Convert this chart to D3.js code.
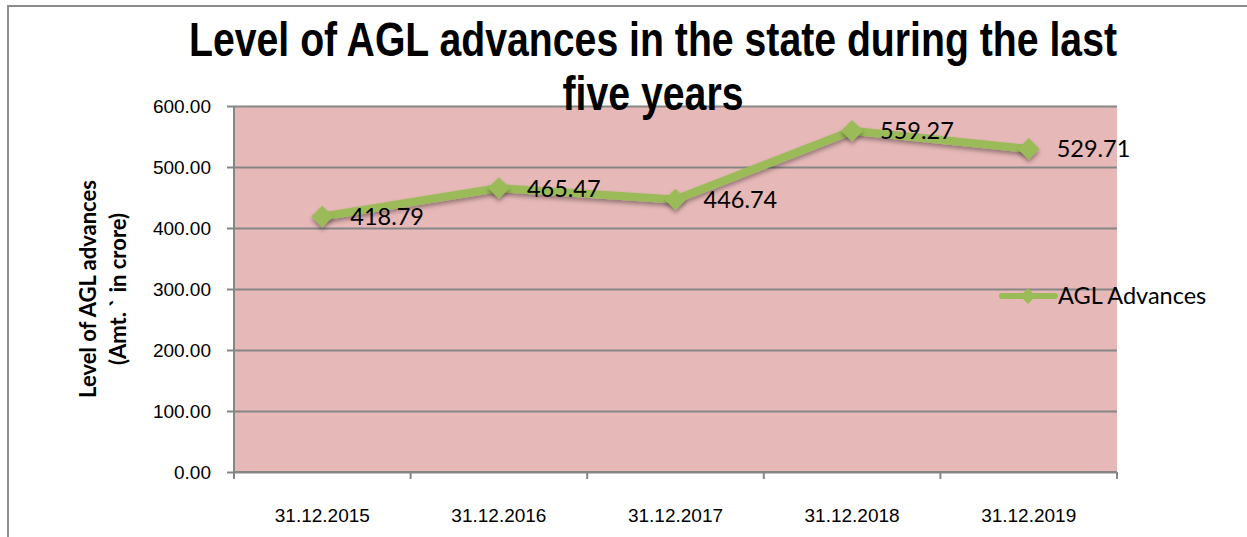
<!DOCTYPE html>
<html>
  <head>
    <title>AGL Advances</title>
    <script src="https://d3js.org/d3.v7.min.js"></script>
    <style>
      body { margin: 0; background: #ffffff; }
    </style>
  </head>
  <body>
    <svg width="1247" height="537" id="mainsvg"></svg>
    <script>
        // data
        const categories = ['31.12.2015', '31.12.2016', '31.12.2017', '31.12.2018', '31.12.2019'];
        const values = [418.79, 465.47, 446.74, 559.27, 529.71];
        const yTicks = [0, 100, 200, 300, 400, 500, 600];
        const seriesName = 'AGL Advances';
        const titleLines = ['Level of AGL advances in the state during the last', 'five years'];
        const yTitleLines = ['Level of AGL advances', '(Amt. ` in crore)'];

        const svg = d3.select('#mainsvg');
        const margin = {top: 106, left: 234};
        const innerWidth = 1117 - margin.left;
        const innerHeight = 472 - margin.top;
        const lineColor = '#9bbb59';
        const gridColor = '#868686';
        const armFont = '"Liberation Sans", Arial, sans-serif';
        const calibFont = 'Lato, "Open Sans", sans-serif';

        // outer chart border (runs off the right and bottom edges)
        svg.append('rect')
          .attr('x', 8).attr('y', 6)
          .attr('width', 1260).attr('height', 560)
          .attr('fill', 'none').attr('stroke', '#8c8c8c').attr('stroke-width', 2);

        const g = svg.append('g').attr('transform', `translate(${margin.left}, ${margin.top})`);

        const xScale = d3.scaleBand().domain(categories).range([0, innerWidth]);
        const yScale = d3.scaleLinear().domain([0, 600]).range([innerHeight, 0]);

        g.append('rect')
          .attr('width', innerWidth).attr('height', innerHeight)
          .attr('fill', '#e6b8b7');

        // y axis with gridlines
        const yAxis = d3.axisLeft(yScale).tickValues(yTicks)
          .tickFormat(d3.format('.2f')).tickSize(7).tickPadding(16);
        const yg = g.append('g').call(yAxis)
          .attr('font-family', armFont).attr('font-size', 19);
        yg.selectAll('.tick line').attr('stroke', gridColor).attr('stroke-width', 2).attr('x2', innerWidth).attr('x1', -7);
        yg.select('.domain').attr('stroke', gridColor).attr('stroke-width', 2).attr('d', `M0,0V${innerHeight}`);
        yg.selectAll('.tick text').attr('fill', '#000').attr('dy', '0.34em');

        // x axis: ticks at category boundaries
        const xg = g.append('g').attr('transform', `translate(0, ${innerHeight})`);
        xg.append('line').attr('x1', 0).attr('x2', innerWidth)
          .attr('stroke', gridColor).attr('stroke-width', 2);
        const bounds = categories.map(c => xScale(c)).concat([innerWidth]);
        xg.selectAll('.xtick').data(bounds).join('line')
          .attr('x1', d => d).attr('x2', d => d).attr('y1', 0).attr('y2', 7)
          .attr('stroke', gridColor).attr('stroke-width', 2);
        xg.selectAll('.xlabel').data(categories).join('text')
          .attr('font-family', armFont)
          .attr('x', d => xScale(d) + xScale.bandwidth() / 2)
          .attr('y', 50)
          .attr('text-anchor', 'middle').attr('font-size', 19)
          .text(d => d);

        // series
        const pts = categories.map((c, i) => ({c, v: values[i]}));
        const px = d => xScale(d.c) + xScale.bandwidth() / 2;
        const py = d => yScale(d.v);

        const defs = svg.append('defs');
        const f = defs.append('filter').attr('id', 'shadow').attr('x', '-50%').attr('y', '-50%').attr('width', '200%').attr('height', '200%');
        f.append('feDropShadow').attr('dx', 0).attr('dy', 3).attr('stdDeviation', 2)
          .attr('flood-color', '#000').attr('flood-opacity', 0.35);

        g.append('path').datum(pts)
          .attr('d', d3.line().x(px).y(py))
          .attr('fill', 'none').attr('stroke', lineColor).attr('stroke-width', 8)
          .attr('stroke-linejoin', 'round').attr('stroke-linecap', 'round')
          .attr('filter', 'url(#shadow)');

        const diamond = d3.symbol().type(d3.symbolDiamond2).size(300);
        g.selectAll('.marker').data(pts).join('path')
          .attr('transform', d => `translate(${px(d)}, ${py(d)})`)
          .attr('d', diamond)
          .attr('fill', lineColor)
          .attr('filter', 'url(#shadow)');

        g.selectAll('.dlabel').data(pts).join('text')
          .attr('font-family', calibFont)
          .attr('x', d => px(d) + 28)
          .attr('y', d => py(d))
          .attr('dy', '0.36em')
          .attr('font-size', 23.5).attr('fill', '#000')
          .text(d => d.v.toFixed(2));

        // legend
        const lg = svg.append('g').attr('transform', 'translate(1000, 296)');
        lg.append('line').attr('x1', 2).attr('x2', 55)
          .attr('stroke', lineColor).attr('stroke-width', 6).attr('stroke-linecap', 'round');
        lg.append('path').attr('transform', 'translate(28, 0)')
          .attr('d', d3.symbol().type(d3.symbolDiamond2).size(160)).attr('fill', lineColor);
        lg.append('text').attr('font-family', calibFont)
          .attr('x', 58).attr('y', 0).attr('dy', '0.36em')
          .attr('font-size', 23.5).attr('fill', '#000')
          .text(seriesName);

        // y axis title
        const yt = svg.append('text').attr('font-family', calibFont)
          .attr('transform', 'translate(0, 289) rotate(-90)')
          .attr('text-anchor', 'middle').attr('font-weight', 'bold').attr('font-size', 22);
        yt.selectAll('tspan').data(yTitleLines).join('tspan')
          .attr('x', 0).attr('y', (d, i) => 96 + i * 30)
          .text(d => d);

        // title: narrow bold face, squeezed to the reference width
        const title = svg.append('text').attr('font-family', armFont)
          .attr('text-anchor', 'middle').attr('font-weight', 'bold').attr('font-size', 49);
        title.selectAll('tspan').data(titleLines).join('tspan')
          .attr('x', 653).attr('y', (d, i) => 56 + i * 54)
          .text(d => d);
        const k = 928 / title.select('tspan').node().getComputedTextLength();
        title.selectAll('tspan').each(function() {
          d3.select(this)
            .attr('textLength', this.getComputedTextLength() * k)
            .attr('lengthAdjust', 'spacingAndGlyphs');
        });
    </script>
  </body>
</html>
